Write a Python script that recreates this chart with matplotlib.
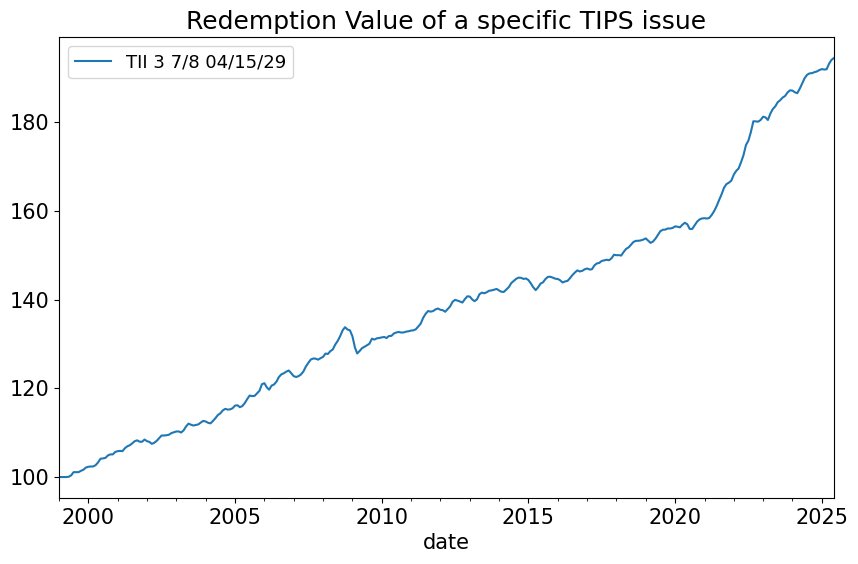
import matplotlib
matplotlib.use("Agg")
import matplotlib.pyplot as plt
import matplotlib.dates as mdates
import pandas as pd

# valores mensuales (1999-01 .. 2025-06)
nombre = "TII 3 7/8 04/15/29"
inicio = "1999-01-01"
valores = [
    100.00, 100.00, 100.00, 100.00, 100.06, 100.37, 101.10, 101.10, 101.10, 101.40, 101.65, 102.13,  # 1999
    102.32, 102.38, 102.38, 102.68, 103.29, 104.14, 104.20, 104.32, 104.87, 105.11, 105.11, 105.66,  # 2000
    105.84, 105.90, 105.84, 106.51, 106.94, 107.18, 107.61, 108.09, 108.28, 107.97, 107.97, 108.46,  # 2001
    108.09, 107.91, 107.49, 107.73, 108.16, 108.76, 109.37, 109.37, 109.43, 109.55, 109.92, 110.10,  # 2002
    110.28, 110.28, 110.04, 110.53, 111.38, 112.05, 111.81, 111.62, 111.74, 111.87, 112.29, 112.66,  # 2003
    112.54, 112.23, 112.11, 112.66, 113.27, 114.00, 114.36, 115.03, 115.39, 115.21, 115.27, 115.52,  # 2004
    116.12, 116.19, 115.76, 116.00, 116.67, 117.58, 118.38, 118.25, 118.31, 118.86, 119.47, 120.93,  # 2005
    121.17, 120.20, 119.71, 120.63, 120.87, 121.54, 122.57, 123.18, 123.42, 123.79, 124.03, 123.42,  # 2006
    122.75, 122.57, 122.75, 123.13, 123.79, 124.92, 125.73, 126.50, 126.74, 126.71, 126.48, 126.82,  # 2007
    127.10, 127.85, 127.76, 128.40, 128.77, 129.89, 130.68, 131.78, 133.10, 133.80, 133.27, 133.09,  # 2008
    131.74, 129.22, 127.88, 128.44, 129.08, 129.39, 129.71, 130.09, 131.21, 131.00, 131.29, 131.37,  # 2009
    131.50, 131.59, 131.36, 131.81, 131.84, 132.38, 132.61, 132.72, 132.59, 132.62, 132.80, 132.88,  # 2010
    133.04, 133.10, 133.33, 133.96, 134.62, 135.93, 136.81, 137.45, 137.31, 137.43, 137.81, 138.02,  # 2011
    137.73, 137.62, 137.28, 137.88, 138.49, 139.54, 139.96, 139.80, 139.59, 139.36, 140.14, 140.76,  # 2012
    140.71, 140.04, 139.67, 140.08, 141.23, 141.60, 141.45, 141.70, 142.04, 142.10, 142.27, 142.43,  # 2013
    142.07, 141.78, 141.76, 142.29, 142.82, 143.74, 144.21, 144.71, 144.98, 144.93, 144.69, 144.79,  # 2014
    144.43, 143.65, 142.84, 142.16, 142.78, 143.63, 143.92, 144.66, 145.16, 145.17, 144.97, 144.74,  # 2015
    144.68, 144.37, 143.88, 144.12, 144.23, 144.86, 145.54, 146.13, 146.61, 146.37, 146.51, 146.86,  # 2016
    147.04, 146.81, 146.86, 147.72, 148.18, 148.30, 148.74, 148.87, 149.01, 148.90, 149.35, 150.14,  # 2017
    150.04, 150.05, 149.96, 150.78, 151.46, 151.80, 152.41, 153.04, 153.28, 153.29, 153.38, 153.56,  # 2018
    153.83, 153.31, 152.82, 153.12, 153.76, 154.63, 155.45, 155.78, 155.81, 156.07, 156.06, 156.19,  # 2019
    156.54, 156.46, 156.32, 156.92, 157.35, 157.01, 155.96, 155.96, 156.82, 157.61, 158.11, 158.33,  # 2020
    158.39, 158.30, 158.45, 159.12, 159.99, 161.12, 162.45, 163.75, 165.27, 166.07, 166.41, 166.86,  # 2021
    168.25, 169.08, 169.59, 171.02, 172.58, 174.89, 175.86, 177.80, 180.25, 180.22, 180.16, 180.55,  # 2022
    181.28, 181.10, 180.54, 181.99, 183.00, 183.61, 184.54, 185.00, 185.60, 185.95, 186.76, 187.23,  # 2023
    187.16, 186.78, 186.59, 187.61, 188.77, 189.99, 190.73, 191.05, 191.11, 191.33, 191.49, 191.80,  # 2024
    192.02, 191.91, 191.98, 193.24, 194.10, 194.53,  # 2025
]

fechas = pd.date_range(inicio, periods=len(valores), freq="MS", name="date")
serie = pd.Series(valores, index=fechas, name=nombre)

fig = plt.figure(figsize=(8.58, 5.64), dpi=100)
ax = fig.add_axes([59 / 858, 1 - 498 / 564, 775 / 858, 461 / 564])
serie.plot(ax=ax, fontsize=15, color="#1f77b4", lw=1.5, x_compat=True)
ax.set_xlim(fechas[0], fechas[-1])

# ticks como en el original: cada 5 años con etiqueta, cada año sin etiqueta
ax.xaxis.set_major_locator(mdates.YearLocator(5))
ax.xaxis.set_minor_locator(mdates.YearLocator(1))
ax.xaxis.set_major_formatter(mdates.DateFormatter("%Y"))
ax.xaxis.set_minor_formatter(matplotlib.ticker.NullFormatter())
ax.tick_params(axis="x", labelrotation=0, labelsize=15)
for t in ax.get_xticklabels():
    t.set_ha("center")

ax.set_title("Redemption Value of a specific TIPS issue", fontsize=18)
ax.set_xlabel("date", fontsize=15)
ax.legend(fontsize=13, loc="upper left")

fig.savefig("out.png", dpi=100)
